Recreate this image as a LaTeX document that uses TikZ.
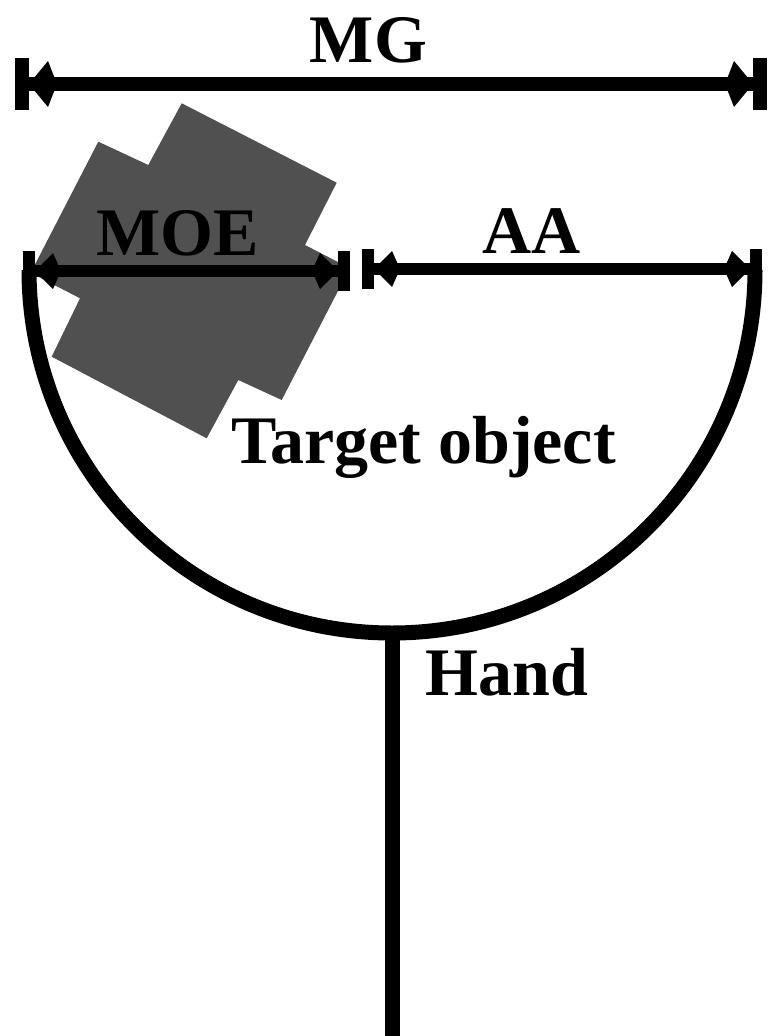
\documentclass[tikz,border=0pt]{standalone}
\usepackage{fontspec}
\setmainfont{Liberation Serif}
\usetikzlibrary{arrows.meta}
\definecolor{objgray}{RGB}{80,80,80}
\begin{document}
\begin{tikzpicture}[x=1pt,y=-1pt,
  lbl/.style={font=\fontsize{68}{80}\selectfont\bfseries, inner sep=0pt, anchor=base},
  bigdim/.style={line width=14pt,
    {Bar[width=52pt]Kite[length=28pt,width=46pt,inset=9pt,line width=0pt]}-{Kite[length=28pt,width=46pt,inset=9pt,line width=0pt]Bar[width=52pt]}},
  smalldim/.style={line width=12pt,
    {Bar[width=40pt]Kite[length=26pt,width=36pt,inset=8pt,line width=0pt]}-{Kite[length=26pt,width=36pt,inset=8pt,line width=0pt]Bar[width=40pt]}},
  hand/.style={line width=15pt, line cap=butt}]
\useasboundingbox (0,0) rectangle (768,1036);
\fill[white] (0,0) rectangle (768,1036);

% target object (rotated cross)
\fill[objgray] (181.7,103.3) -- (336.7,182.7) -- (305,245) -- (349.8,268.1)
  -- (281.7,400) -- (238.3,380) -- (206.7,438.3) -- (51.7,356.7)
  -- (80,298.3) -- (30.7,272.8) -- (98.3,141.7) -- (148.3,165) -- cycle;

% coordinates
\coordinate (mgL) at (15,84);
\coordinate (mgR) at (767,84);
\coordinate (moeL) at (23,271);
\coordinate (moeR) at (350,271);
\coordinate (aaL) at (362,269);
\coordinate (aaR) at (762,269);
\coordinate (arcL) at (29,270);
\coordinate (stemT) at (392,633);
\coordinate (stemB) at (392,1040);

% hand
\draw[hand] (arcL) arc[start angle=180, end angle=360, radius=363pt];
\draw[hand] (stemT) -- (stemB);

% labels
\node[lbl] (mg) at (368.5,62) {MG};
\node[lbl] (moe) at (177.5,255) {MOE};
\node[lbl] (aa) at (531.5,253) {AA};
\node[lbl] (tgt) at (423.5,463) {Target object};
\node[lbl] (hnd) at (507,695) {Hand};

% dimension arrows
\draw[bigdim] (mgL) -- (mgR);
\draw[smalldim] (moeL) -- (moeR);
\draw[smalldim] (aaL) -- (aaR);
\end{tikzpicture}
\end{document}
